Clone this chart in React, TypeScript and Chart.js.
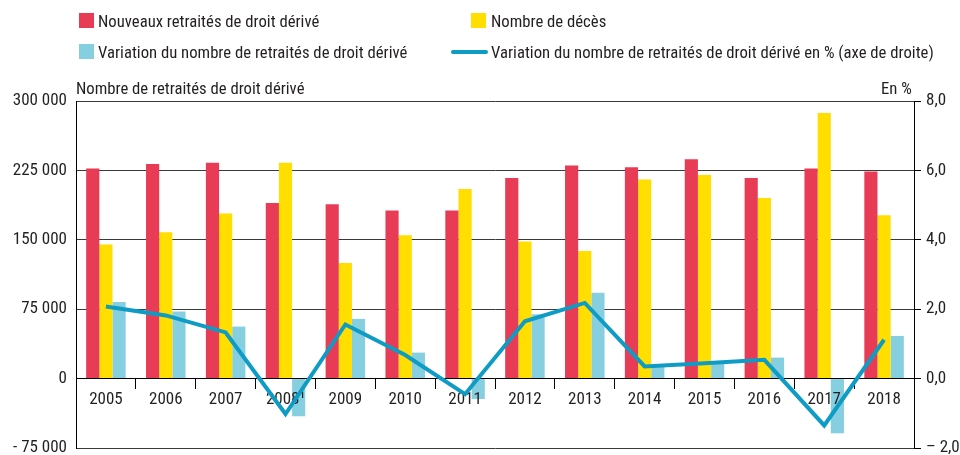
import React, { useEffect, useRef } from "react";
import { Chart, registerables } from "chart.js";

Chart.register(...registerables);

const years = ["2005", "2006", "2007", "2008¹", "2009", "2010", "2011", "2012", "2013", "2014", "2015", "2016", "2017", "2018"];
const newRetirees = [227000, 232000, 233400, 189900, 188400, 181600, 181600, 216900, 230200, 228400, 237000, 216900, 227000, 223700];
const deaths = [144800, 158100, 178300, 233400, 125000, 154900, 205000, 148100, 138000, 215100, 220100, 195300, 287100, 176500];
const variation = [82900, 72400, 56200, -40700, 64500, 28100, -22000, 69500, 92900, 13000, 16200, 22700, -59100, 46100];
const variationPct = [2.08, 1.82, 1.33, -1.02, 1.56, 0.68, -0.45, 1.65, 2.18, 0.35, 0.44, 0.54, -1.35, 1.12];

const leftTickValues = [-75000, 0, 75000, 150000, 225000, 300000];
const leftTickLabels = ["- 75 000", "0", "75 000", "150 000", "225 000", "300 000"];
const rightTickValues = [-2, 0, 2, 4, 6, 8];
const rightTickLabels = ["– 2,0", "0,0", "2,0", "4,0", "6,0", "8,0"];

const seriesNames = [
  "Nouveaux retraités de droit dérivé",
  "Nombre de décès",
  "Variation du nombre de retraités de droit dérivé",
  "Variation du nombre de retraités de droit dérivé en % (axe de droite)",
];
const leftAxisTitle = "Nombre de retraités de droit dérivé";
const rightAxisTitle = "En %";

const RED = "#e83c56";
const YELLOW = "#ffde00";
const BLUE = "#86cfe1";
const LINE = "#0e9bc4";
const TEXT = "#231f20";
const FONT = "'Liberation Sans Narrow', 'Roboto Condensed', 'DejaVu Sans Condensed', 'Liberation Sans', sans-serif";

// draw the line series after the axes so it sits above the category labels
const lineOnTop = {
  id: "lineOnTop",
  beforeDatasetDraw(chart: any, args: any) {
    if (args.index === 0) return false;
    return true;
  },
  afterDraw(chart: any) {
    const meta = chart.getDatasetMeta(0);
    const ctx = chart.ctx;
    const a = chart.chartArea;
    ctx.save();
    ctx.beginPath();
    ctx.rect(a.left - 2, a.top - 2, a.right - a.left + 4, a.bottom - a.top + 4);
    ctx.clip();
    meta.controller.draw();
    ctx.restore();
  },
};

export default function App() {
  const ref = useRef<HTMLCanvasElement>(null);

  useEffect(() => {
    const canvas = ref.current;
    if (!canvas) return;
    const chart = new Chart(canvas, {
      type: "bar",
      plugins: [lineOnTop],
      data: {
        labels: years,
        datasets: [
          {
            type: "line",
            label: seriesNames[3],
            data: variationPct,
            yAxisID: "y1",
            borderColor: LINE,
            backgroundColor: LINE,
            borderWidth: 4,
            pointRadius: 0,
            tension: 0,
            order: 0,
          } as any,
          {
            label: seriesNames[0],
            data: newRetirees,
            backgroundColor: RED,
            yAxisID: "y",
            order: 1,
          },
          {
            label: seriesNames[1],
            data: deaths,
            backgroundColor: YELLOW,
            yAxisID: "y",
            order: 1,
          },
          {
            label: seriesNames[2],
            data: variation,
            backgroundColor: BLUE,
            yAxisID: "y",
            order: 1,
          },
        ],
      },
      options: {
        responsive: false,
        animation: false,
        maintainAspectRatio: false,
        datasets: {
          bar: { categoryPercentage: 0.66, barPercentage: 1.0 },
        },
        layout: { padding: { top: 101, bottom: 7, left: 0, right: 0 } },
        plugins: {
          legend: { display: false },
          tooltip: { enabled: false },
          title: { display: false },
        },
        scales: {
          x: {
            position: { y: 0 } as any,
            grid: {
              offset: true,
              drawOnChartArea: false,
              drawTicks: true,
              tickLength: 10,
              color: "#000",
              lineWidth: 1,
              z: 1,
            },
            border: { display: true, color: "#000", width: 1, z: 1 },
            ticks: {
              color: TEXT,
              font: { family: FONT, size: 17 },
              padding: 1,
              maxRotation: 0,
              autoSkip: false,
              z: 1,
            },
          },
          y: {
            position: "left",
            min: -75000,
            max: 300000,
            afterBuildTicks: (s: any) => {
              s.ticks = leftTickValues.map((v) => ({ value: v }));
            },
            afterFit: (s: any) => {
              s.width = 76;
              s.paddingTop = 0;
              s.paddingBottom = 0;
            },
            grid: {
              drawTicks: false,
              color: "#3a3a3a",
              lineWidth: 1,
            },
            border: { display: true, color: "#000", width: 1 },
            ticks: {
              color: TEXT,
              font: { family: FONT, size: 17 },
              padding: 9,
              callback: (v: any) => leftTickLabels[leftTickValues.indexOf(Number(v))],
            },
          },
          y1: {
            position: "right",
            min: -2,
            max: 8,
            afterBuildTicks: (s: any) => {
              s.ticks = rightTickValues.map((v) => ({ value: v }));
            },
            afterFit: (s: any) => {
              s.width = 46;
              s.paddingTop = 0;
              s.paddingBottom = 0;
            },
            grid: {
              drawOnChartArea: false,
              drawTicks: true,
              tickLength: 7,
              color: "#000",
              lineWidth: 1,
            },
            border: { display: true, color: "#000", width: 1 },
            ticks: {
              color: TEXT,
              font: { family: FONT, size: 17 },
              padding: 5,
              callback: (v: any) => rightTickLabels[rightTickValues.indexOf(Number(v))],
            },
          },
        },
      },
    });
    return () => chart.destroy();
  }, []);

  const text: React.CSSProperties = {
    position: "absolute",
    fontFamily: FONT,
    fontSize: 16.7,
    color: TEXT,
    whiteSpace: "nowrap",
    lineHeight: "18px",
  };
  const square = (x: number, y: number, c: string): React.CSSProperties => ({
    position: "absolute",
    left: x,
    top: y,
    width: 15,
    height: 15,
    background: c,
  });

  return (
    <div style={{ position: "absolute", left: 0, top: 0, width: 960, height: 455, background: "#fff", overflow: "hidden" }}>
      <canvas ref={ref} width={960} height={455} style={{ position: "absolute", left: 0, top: 0, width: 960, height: 455 }} />
      <div style={square(79, 13, RED)} />
      <div style={{ ...text, left: 98, top: 13 }}>{seriesNames[0]}</div>
      <div style={square(471, 13, YELLOW)} />
      <div style={{ ...text, left: 491, top: 13 }}>{seriesNames[1]}</div>
      <div style={square(79, 44, BLUE)} />
      <div style={{ ...text, left: 98, top: 44 }}>{seriesNames[2]}</div>
      <div style={{ position: "absolute", left: 451, top: 50, width: 37, height: 4, borderRadius: 2, background: LINE }} />
      <div style={{ ...text, left: 491, top: 44 }}>{seriesNames[3]}</div>
      <div style={{ ...text, left: 76, top: 80 }}>{leftAxisTitle}</div>
      <div style={{ ...text, left: 881, top: 80 }}>{rightAxisTitle}</div>
    </div>
  );
}
